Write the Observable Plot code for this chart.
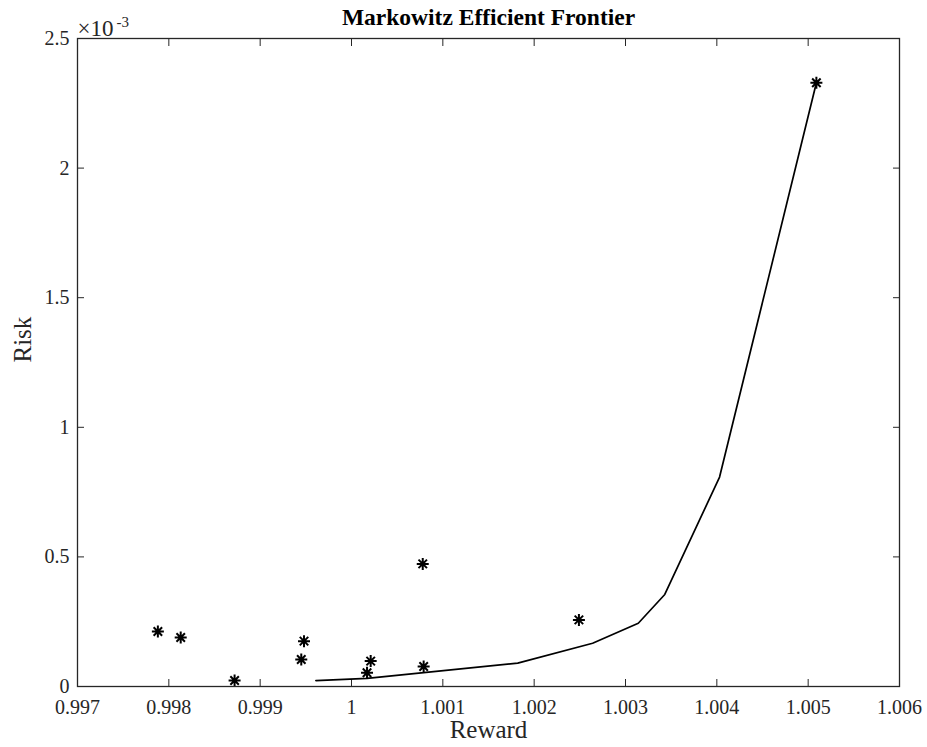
<!DOCTYPE html>
<html>
<head>
<meta charset="utf-8">
<script src="https://cdn.jsdelivr.net/npm/d3@7"></script>
<script src="https://cdn.jsdelivr.net/npm/@observablehq/plot@0.6"></script>
<style>
  html, body { margin: 0; padding: 0; background: #fff; }
</style>
</head>
<body>
<div id="chart"></div>
<script>
const titleText = "Markowitz Efficient Frontier";
const xLabel = "Reward";
const yLabel = "Risk";
const rewardTicks = [0.997, 0.998, 0.999, 1.000, 1.001, 1.002, 1.003, 1.004, 1.005, 1.006];
const riskTicks = [0, 0.0005, 0.0010, 0.0015, 0.0020, 0.0025];

// individual assets (asterisks)
const assetReward = [0.99788, 0.99813, 0.99872, 0.99948, 0.99945, 1.00021, 1.00017, 1.00078, 1.00079, 1.00249, 1.00509];
const assetRisk   = [0.000212, 0.000189, 0.000023, 0.000175, 0.000104, 0.000098, 0.000053, 0.000473, 0.000077, 0.000257, 0.002329];

// efficient frontier (line)
const frontierReward = [0.99961, 1.00017, 1.00182, 1.00264, 1.00314, 1.00343, 1.00403, 1.00509];
const frontierRisk   = [0.000023, 0.000031, 0.000090, 0.000167, 0.000244, 0.000355, 0.000808, 0.002329];

const assets = assetReward.map((r, i) => ({reward: r, risk: assetRisk[i]}));
const frontier = frontierReward.map((r, i) => ({reward: r, risk: frontierRisk[i]}));

const asterisk8 = {
  draw(context, size) {
    const r = Math.sqrt(size / Math.PI);
    const d = r * Math.SQRT1_2;
    context.moveTo(-r, 0); context.lineTo(r, 0);
    context.moveTo(0, -r); context.lineTo(0, r);
    context.moveTo(-d, -d); context.lineTo(d, d);
    context.moveTo(-d, d); context.lineTo(d, -d);
  }
};

const fmtX = d => d3.format("~g")(+d.toFixed(3));
const fmtY = d => d3.format("~g")(+(d * 1000).toFixed(3));
const axisColor = "#262626";
const tickLen = 7;

const chart = Plot.plot({
  width: 927,
  height: 747,
  marginTop: 38,
  marginLeft: 77,
  marginRight: 28,
  marginBottom: 61,
  style: {fontFamily: "'Liberation Serif', 'Times New Roman', serif", color: axisColor, background: "#fff"},
  x: {domain: [0.997, 1.006]},
  y: {domain: [0, 0.0025]},
  marks: [
    // inward tick marks on all four sides
    Plot.axisX({anchor: "bottom", ticks: rewardTicks, tickSize: tickLen, dy: -tickLen, tickFormat: () => "", label: null, stroke: axisColor}),
    Plot.axisX({anchor: "top", ticks: rewardTicks, tickSize: tickLen, dy: tickLen, tickFormat: () => "", label: null, stroke: axisColor}),
    Plot.axisY({anchor: "left", ticks: riskTicks, tickSize: tickLen, dx: tickLen, tickFormat: () => "", label: null, stroke: axisColor}),
    Plot.axisY({anchor: "right", ticks: riskTicks, tickSize: tickLen, dx: -tickLen, tickFormat: () => "", label: null, stroke: axisColor}),
    // tick labels
    Plot.axisX({anchor: "bottom", ticks: rewardTicks, tickSize: 0, tickPadding: 13, tickFormat: fmtX, label: null, fontSize: 20, fill: axisColor}),
    Plot.axisY({anchor: "left", ticks: riskTicks, tickSize: 0, tickPadding: 8, tickFormat: fmtY, label: null, fontSize: 20, fill: axisColor}),
    // exponent
    Plot.text(["×10"], {frameAnchor: "top-left", textAnchor: "start", lineAnchor: "bottom", dx: 0, dy: -3, fontSize: 23, fill: axisColor}),
    Plot.text(["-3"], {frameAnchor: "top-left", textAnchor: "start", lineAnchor: "bottom", dx: 39, dy: -12, fontSize: 15, fill: axisColor}),
    // axis labels and title
    Plot.text([xLabel], {frameAnchor: "bottom", lineAnchor: "bottom", dy: 51, fontSize: 25, fill: axisColor}),
    Plot.text([yLabel], {frameAnchor: "left", rotate: -90, lineAnchor: "middle", dx: -55, fontSize: 25, fill: axisColor}),
    Plot.text([titleText], {frameAnchor: "top", lineAnchor: "bottom", dy: -14, fontSize: 23.5, fontWeight: "bold", fill: "#000"}),
    // data
    Plot.line(frontier, {x: "reward", y: "risk", stroke: "#000", strokeWidth: 1.7}),
    Plot.dot(assets, {x: "reward", y: "risk", symbol: asterisk8, r: 6, stroke: "#000", strokeWidth: 2, fill: "none"}),
    Plot.frame({stroke: axisColor, strokeWidth: 1.3})
  ]
});
document.getElementById("chart").appendChild(chart);
</script>
</body>
</html>
